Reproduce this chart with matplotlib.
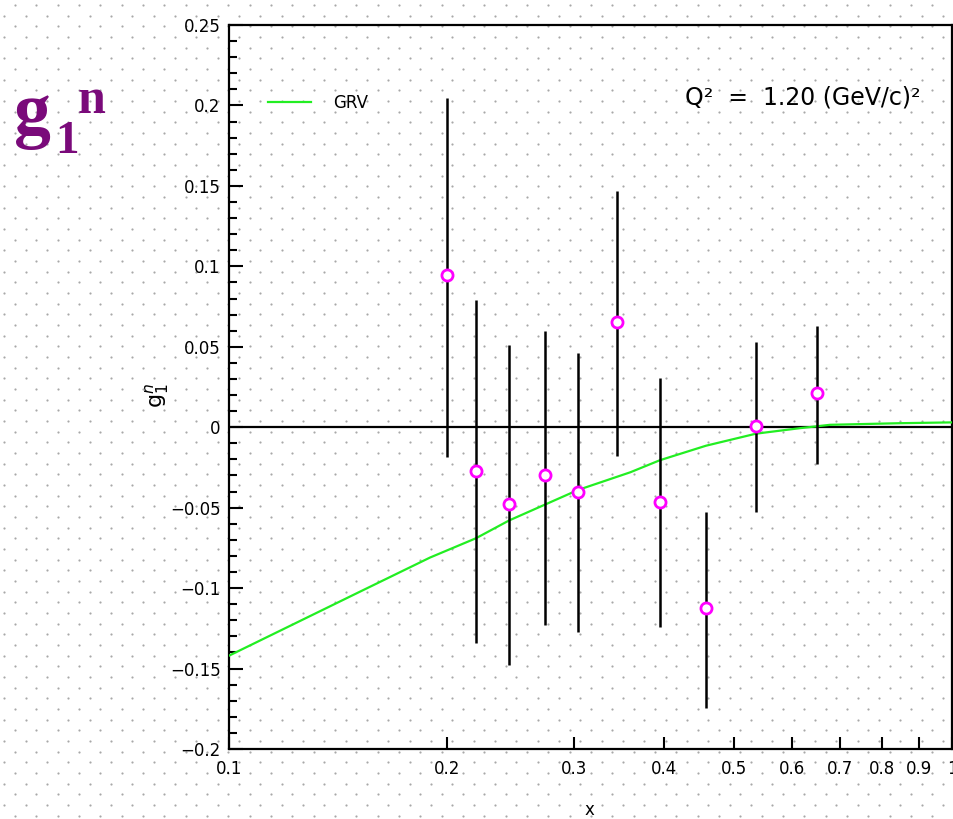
import numpy as np
import matplotlib
matplotlib.use("Agg")
import matplotlib.pyplot as plt
from matplotlib.ticker import FixedLocator, FixedFormatter, MultipleLocator, NullLocator

# ____________________________________________________________
# data: g1 neutron points with errors, and the GRV curve

x_pts = [0.2002, 0.2196, 0.2439, 0.2736, 0.3039, 0.3440, 0.3945, 0.4568, 0.5358, 0.6508]
g1_pts = [0.0945, -0.0273, -0.0480, -0.0300, -0.0400, 0.0653, -0.0466, -0.1125, 0.0010, 0.0210]
err_hi = [0.2045, 0.0790, 0.0510, 0.0600, 0.0460, 0.1470, 0.0305, -0.0530, 0.0530, 0.0630]
err_lo = [-0.0186, -0.1340, -0.1480, -0.1230, -0.1270, -0.0180, -0.1240, -0.1746, -0.0530, -0.0230]

x_grv = [0.1000, 0.1513, 0.1897, 0.2196, 0.2439, 0.3039, 0.3590, 0.3945, 0.4568, 0.5358, 0.6160,
         0.6780, 0.8470, 1.0000]
g1_grv = [-0.1420, -0.1025, -0.0810, -0.0690, -0.0580, -0.0390, -0.0280, -0.0205, -0.0115, -0.0040,
          -0.0006, 0.0015, 0.0025, 0.0030]

x_ticks = [0.1, 0.2, 0.3, 0.4, 0.5, 0.6, 0.7, 0.8, 0.9, 1.0]
x_ticklabels = ['0.1', '0.2', '0.3', '0.4', '0.5', '0.6', '0.7', '0.8', '0.9', '1']
y_ticks = [-0.2, -0.15, -0.1, -0.05, 0, 0.05, 0.1, 0.15, 0.2, 0.25]
y_ticklabels = ['\u22120.2', '\u22120.15', '\u22120.1', '\u22120.05', '0', '0.05', '0.1', '0.15', '0.2', '0.25']

W, H = 954, 819
fig = plt.figure(figsize=(W / 100, H / 100), dpi=100)

# ____________________________________________________________
# dotted paper background over the whole page

bg = fig.add_axes([0, 0, 1, 1], zorder=0)
bg.set_xlim(0, W)
bg.set_ylim(H, 0)
bg.axis('off')
step = 21.33
rows = np.arange(5, H, step / 2)
dx, dy = [], []
for i, yy in enumerate(rows):
    x0 = 15 if i % 2 == 0 else 15 - step / 2
    xs = np.arange(x0, W, step)
    dx.extend(xs)
    dy.extend([yy] * len(xs))
bg.scatter(dx, dy, s=2.5, c='#a8a8a8', linewidths=0)

# ____________________________________________________________
# main axes

ax = fig.add_axes([229 / W, 1 - 749 / H, 723 / W, 724 / H], zorder=1)
ax.set_facecolor('none')
ax.set_xscale('log')
ax.set_xlim(0.1, 1.0)
ax.set_ylim(-0.2, 0.25)

ax.axhline(0, color='black', lw=1.6, zorder=2)
ax.plot(x_grv, g1_grv, color='#22ee22', lw=1.6, zorder=3, label='GRV')

for xi, lo, hi in zip(x_pts, err_lo, err_hi):
    ax.vlines(xi, lo, hi, color='black', lw=1.8, zorder=4)
ax.plot(x_pts, g1_pts, 'o', ms=8, mfc='white', mec='#ff00ff', mew=2, zorder=5)

for s in ax.spines.values():
    s.set_linewidth(1.6)

ax.xaxis.set_major_locator(FixedLocator(x_ticks))
ax.xaxis.set_major_formatter(FixedFormatter(x_ticklabels))
ax.xaxis.set_minor_locator(NullLocator())
ax.yaxis.set_major_locator(FixedLocator(y_ticks))
ax.yaxis.set_major_formatter(FixedFormatter(y_ticklabels))
ax.yaxis.set_minor_locator(MultipleLocator(0.01))
ax.tick_params(axis='x', which='major', direction='in', length=9, width=1.5,
               labelsize=12, pad=8, top=False)
ax.tick_params(axis='y', which='major', direction='in', length=10, width=1.5,
               labelsize=12, pad=6, right=False)
ax.tick_params(axis='y', which='minor', direction='in', length=6, width=1.5, right=False)

ax.legend(loc='center left', bbox_to_anchor=(0.054, 0.892), frameon=False,
          borderpad=0, borderaxespad=0, handlelength=2.6, handletextpad=1.3, fontsize=12)
ax.text(0.956, 0.900, 'Q\u00b2  =  1.20 (GeV/c)\u00b2', transform=ax.transAxes,
        ha='right', va='center', fontsize=17)

ax.text(-0.0996, 0.489, r'g$_1^n$', transform=ax.transAxes, rotation=90,
        ha='center', va='center', fontsize=16)
ax.text(0.499, -0.084, 'x', transform=ax.transAxes, ha='center', va='center', fontsize=12)

# big g1^n heading
purple = '#7a0a7a'
fig.text(14 / W, 1 - 134 / H, 'g', color=purple, fontsize=53, fontweight='bold',
         family='Liberation Serif', va='baseline')
fig.text(55 / W, 1 - 153 / H, '1', color=purple, fontsize=34, fontweight='bold',
         family='Liberation Serif', va='baseline')
fig.text(78 / W, 1 - 113 / H, 'n', color=purple, fontsize=36, fontweight='bold',
         family='Liberation Serif', va='baseline')

fig.savefig('out.png', dpi=100)
